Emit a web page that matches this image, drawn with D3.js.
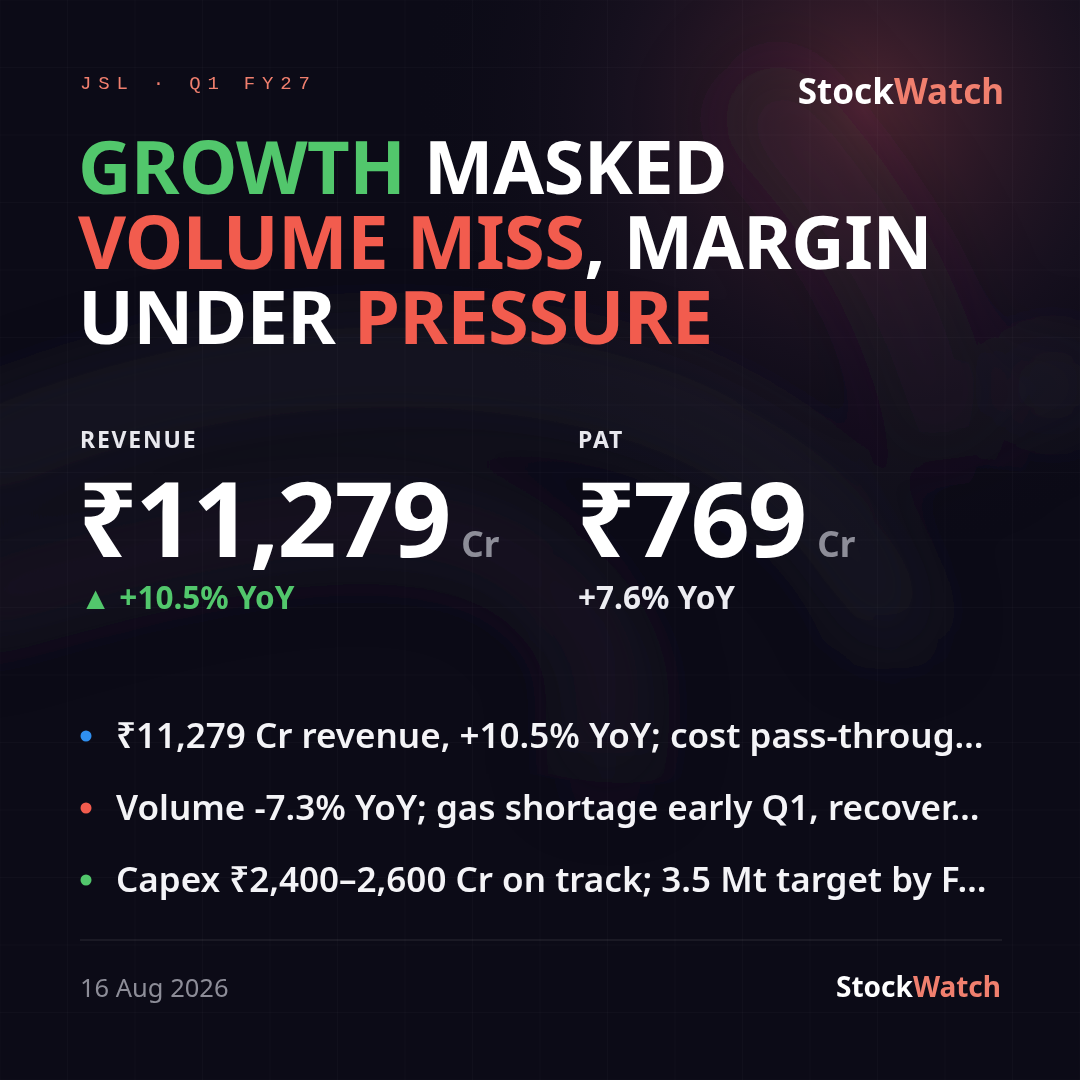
<!DOCTYPE html>
<html>
<head>
<meta charset="utf-8">
<title>JSL Q1 FY27</title>
<script src="https://cdn.jsdelivr.net/npm/d3@7"></script>
<style>
  html, body { margin: 0; padding: 0; background: #0c0b17; }
  svg { display: block; }
  text { font-family: "Noto Sans", sans-serif; }
</style>
</head>
<body>
<svg id="card" width="1080" height="1080"></svg>
<script>
// ---- data ----
const tag = "JSL · Q1 FY27";
const brand = ["Stock", "Watch"];
const headline = [
  [["GROWTH", "green"], [" MASKED", "white"]],
  [["VOLUME MISS", "red"], [", MARGIN", "white"]],
  [["UNDER ", "white"], ["PRESSURE", "red"]]
];
const metricNames = ["REVENUE", "PAT"];
const metricValues = ["₹11,279", "₹769"];
const metricUnits = ["Cr", "Cr"];
const metricChange = ["▲ +10.5% YoY", "+7.6% YoY"];
const changeTone = ["green", "soft"];
const bullets = [
  "₹11,279 Cr revenue, +10.5% YoY; cost pass-throug…",
  "Volume -7.3% YoY; gas shortage early Q1, recover…",
  "Capex ₹2,400–2,600 Cr on track; 3.5 Mt target by F…"
];
const bulletTone = ["blue", "red", "green"];
const dateLabel = "16 Aug 2026";

const colors = {
  green: "#52c76c", red: "#f25c4e", white: "#ffffff", soft: "#ececf1",
  blue: "#2f8ff0", salmon: "#f07f6e", grey: "#8d8d98"
};

const W = 1080, H = 1080;
const svg = d3.select("#card");
const defs = svg.append("defs");

// ---- background ----
svg.append("rect").attr("width", W).attr("height", H).attr("fill", "#0c0b17");

const glow = defs.append("radialGradient").attr("id", "glow")
  .attr("cx", 0.8).attr("cy", 0.1).attr("r", 0.42);
glow.append("stop").attr("offset", "0%").attr("stop-color", "#5e2c38").attr("stop-opacity", 0.8);
glow.append("stop").attr("offset", "55%").attr("stop-color", "#2a1a2c").attr("stop-opacity", 0.35);
glow.append("stop").attr("offset", "100%").attr("stop-color", "#0c0b17").attr("stop-opacity", 0);
svg.append("rect").attr("width", W).attr("height", H).attr("fill", "url(#glow)");

defs.append("filter").attr("id", "blur").attr("x", "-50%").attr("y", "-50%")
  .attr("width", "200%").attr("height", "200%")
  .append("feGaussianBlur").attr("stdDeviation", 40);

const haze = svg.append("g").attr("filter", "url(#blur)");
haze.append("path")
  .attr("d", "M-60,470 C160,370 380,340 600,390 C760,430 860,520 900,640")
  .attr("fill", "none").attr("stroke", "#3a3848").attr("stroke-width", 60).attr("opacity", 0.38);
haze.append("path")
  .attr("d", "M-60,610 C200,530 420,480 540,570 C610,630 620,700 600,780")
  .attr("fill", "none").attr("stroke", "#302e3e").attr("stroke-width", 70).attr("opacity", 0.35);
haze.append("path")
  .attr("d", "M740,80 C850,190 920,300 950,460")
  .attr("fill", "none").attr("stroke", "#2a2232").attr("stroke-width", 110).attr("opacity", 0.3);
haze.append("circle").attr("cx", 1055).attr("cy", 385).attr("r", 26)
  .attr("fill", "#4a4858").attr("opacity", 0.6);

// faint grid
const grid = d3.range(0, W + 1, W / 16);
svg.append("g").selectAll("line.v").data(grid).join("line")
  .attr("x1", d => d).attr("x2", d => d).attr("y1", 0).attr("y2", H)
  .attr("stroke", "#ffffff").attr("stroke-opacity", 0.025);
svg.append("g").selectAll("line.h").data(grid).join("line")
  .attr("y1", d => d).attr("y2", d => d).attr("x1", 0).attr("x2", W)
  .attr("stroke", "#ffffff").attr("stroke-opacity", 0.025);

const left = 80, right = 1002;

// ---- top row ----
svg.append("text").attr("x", left).attr("y", 89)
  .style("font-family", "'Liberation Mono', 'Courier New', monospace")
  .attr("font-size", 19).attr("letter-spacing", 6.8)
  .attr("fill", colors.salmon).text(tag);

function brandMark(x, y, size) {
  const t = svg.append("text").attr("x", x).attr("y", y).attr("text-anchor", "end")
    .attr("font-size", size).attr("font-weight", 700);
  t.append("tspan").attr("fill", colors.white).text(brand[0]);
  t.append("tspan").attr("fill", colors.salmon).text(brand[1]);
}
brandMark(1004, 104, 35);

// ---- headline ----
const lineY = d3.scalePoint().domain(d3.range(headline.length)).range([194, 344]);
const hl = svg.append("g");
headline.forEach((segs, i) => {
  const t = hl.append("text").attr("x", left - 2).attr("y", lineY(i))
    .attr("font-size", 74).attr("font-weight", 700).attr("letter-spacing", -0.6)
    .style("white-space", "pre").attr("xml:space", "preserve");
  t.selectAll("tspan").data(segs).join("tspan")
    .attr("fill", d => colors[d[1]]).text(d => d[0]);
});

// ---- metrics ----
const col = d3.scaleOrdinal().domain(metricNames).range([left, 578]);
const m = svg.append("g").selectAll("g").data(metricNames).join("g")
  .attr("transform", d => `translate(${col(d)},0)`);
m.append("text").attr("y", 448).attr("font-size", 23).attr("font-weight", 700)
  .attr("letter-spacing", 1.8).attr("fill", "#e8e8ee").text(d => d);
const valText = m.append("text").attr("x", -2).attr("y", 557)
  .attr("font-size", 104).attr("font-weight", 700).attr("letter-spacing", -2.2)
  .attr("fill", colors.white).text((d, i) => metricValues[i]);
m.append("text")
  .attr("x", function(d, i) { return valText.nodes()[i].getComputedTextLength() + 10; })
  .attr("y", 557).attr("font-size", 35).attr("font-weight", 700)
  .attr("fill", colors.grey).text((d, i) => metricUnits[i]);
m.append("text").attr("y", 609).attr("font-size", 31.5).attr("font-weight", 700)
  .attr("fill", (d, i) => colors[changeTone[i]])
  .text((d, i) => metricChange[i]);

// ---- bullets ----
const rowY = d3.scalePoint().domain(d3.range(bullets.length)).range([736, 880]);
const b = svg.append("g").selectAll("g").data(bullets).join("g")
  .attr("transform", (d, i) => `translate(0,${rowY(i)})`);
b.append("circle").attr("cx", 86).attr("cy", 0).attr("r", 5.5)
  .attr("fill", (d, i) => colors[bulletTone[i]]);
b.append("text").attr("x", 116).attr("y", 12).attr("font-size", 35).attr("font-weight", 600)
  .attr("fill", "#f4f4f7").text(d => d);

// ---- footer ----
svg.append("line").attr("x1", left).attr("x2", right).attr("y1", 940).attr("y2", 940)
  .attr("stroke", "#ffffff").attr("stroke-opacity", 0.13);
svg.append("text").attr("x", left).attr("y", 997).attr("font-size", 25.5)
  .attr("fill", colors.grey).text(dateLabel);
brandMark(1001, 997, 28);
</script>
</body>
</html>
